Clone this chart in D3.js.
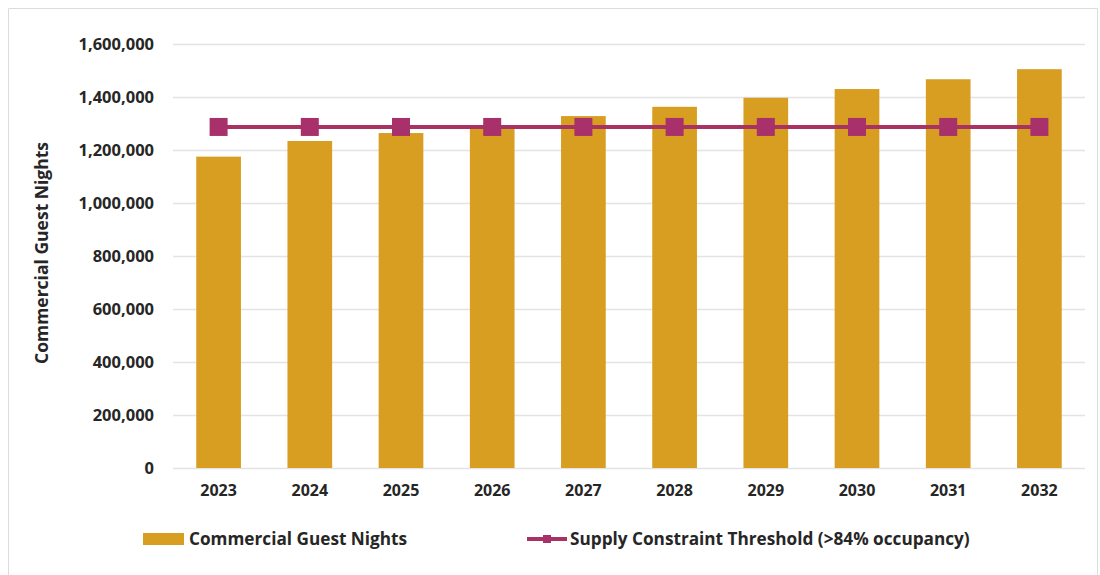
<!DOCTYPE html>
<html>
<head>
<meta charset="utf-8">
<script src="https://cdn.jsdelivr.net/npm/d3@7"></script>
<style>
  body { margin: 0; background: #fff; }
  text { font-family: "Open Sans", "Noto Sans", sans-serif; font-weight: 700; fill: #262626; }
</style>
</head>
<body>
<svg id="chart" width="1100" height="575"></svg>
<script>
var years = ['2023', '2024', '2025', '2026', '2027', '2028', '2029', '2030', '2031', '2032'];
var guestNights = [1175000, 1234000, 1264000, 1294000, 1328000, 1363000, 1397000, 1430000, 1467000, 1505000];
var threshold = [1287000, 1287000, 1287000, 1287000, 1287000, 1287000, 1287000, 1287000, 1287000, 1287000];
var yTicks = [0, 200000, 400000, 600000, 800000, 1000000, 1200000, 1400000, 1600000];

var BAR_COLOR = '#D89E22';
var LINE_COLOR = '#A83262';
var MARK_COLOR = '#A8306B';

var svg = d3.select('#chart');

// frame
svg.append('path')
    .attr('d', 'M8.5,580 V8.5 H1097.5 V580')
    .attr('fill', 'none').attr('stroke', '#dcdcdc').attr('stroke-width', 1);

var margin = { left: 173, right: 15, top: 44, bottom: 107 };
var W = 1100, H = 575;

var x = d3.scaleBand().domain(years)
    .range([margin.left, W - margin.right])
    .paddingInner(0.51).paddingOuter(0.255);
var y = d3.scaleLinear().domain([0, 1600000]).range([H - margin.bottom, margin.top]);

// grid
svg.append('g')
    .call(d3.axisLeft(y).tickValues(yTicks).tickSize(-(W - margin.right - margin.left)).tickFormat(''))
    .attr('transform', 'translate(' + margin.left + ',0)')
    .call(function(g) {
        g.select('.domain').remove();
        g.selectAll('line').attr('stroke', '#e3e3e3').attr('stroke-width', 1.3);
    });

// y tick labels
svg.append('g')
    .attr('transform', 'translate(' + margin.left + ',0)')
    .call(d3.axisLeft(y).tickValues(yTicks).tickSize(0).tickPadding(19).tickFormat(d3.format(',')))
    .call(function(g) {
        g.select('.domain').remove();
        g.selectAll('text').attr('font-size', 16.5).attr('fill', '#262626')
            .style('font-family', '"Open Sans", sans-serif').style('font-weight', 700);
    });

// bars
svg.append('g').selectAll('rect')
    .data(guestNights)
    .join('rect')
    .attr('x', function(d, i) { return x(years[i]); })
    .attr('y', function(d) { return y(d); })
    .attr('width', x.bandwidth())
    .attr('height', function(d) { return y(0) - y(d); })
    .attr('fill', BAR_COLOR);

// x labels
svg.append('g')
    .attr('transform', 'translate(0,' + y(0) + ')')
    .call(d3.axisBottom(x).tickSize(0).tickPadding(17))
    .call(function(g) {
        g.select('.domain').remove();
        g.selectAll('text').attr('font-size', 16).attr('fill', '#262626')
            .style('font-family', '"Open Sans", sans-serif').style('font-weight', 700);
    });

// threshold line
var line = d3.line()
    .x(function(d, i) { return x(years[i]) + x.bandwidth() / 2; })
    .y(function(d) { return y(d); });
svg.append('path')
    .datum(threshold)
    .attr('d', line)
    .attr('fill', 'none').attr('stroke', LINE_COLOR).attr('stroke-width', 4);
svg.append('g').selectAll('rect')
    .data(threshold)
    .join('rect')
    .attr('x', function(d, i) { return x(years[i]) + x.bandwidth() / 2 - 9; })
    .attr('y', function(d) { return y(d) - 9; })
    .attr('width', 18).attr('height', 18)
    .attr('fill', MARK_COLOR);

// y title
svg.append('text')
    .attr('transform', 'translate(48,253) rotate(-90)')
    .attr('text-anchor', 'middle')
    .attr('font-size', 17.5)
    .text('Commercial Guest Nights');

// legend
var leg = svg.append('g');
leg.append('rect').attr('x', 143).attr('y', 533).attr('width', 41).attr('height', 12).attr('fill', BAR_COLOR);
leg.append('text').attr('x', 189).attr('y', 545).attr('font-size', 17.2).text('Commercial Guest Nights');
leg.append('line').attr('x1', 527).attr('x2', 567).attr('y1', 539).attr('y2', 539)
    .attr('stroke', LINE_COLOR).attr('stroke-width', 4);
leg.append('rect').attr('x', 543).attr('y', 535).attr('width', 8).attr('height', 8).attr('fill', MARK_COLOR);
leg.append('text').attr('x', 570).attr('y', 545).attr('font-size', 17.2).text('Supply Constraint Threshold (>84% occupancy)');
</script>
</body>
</html>
